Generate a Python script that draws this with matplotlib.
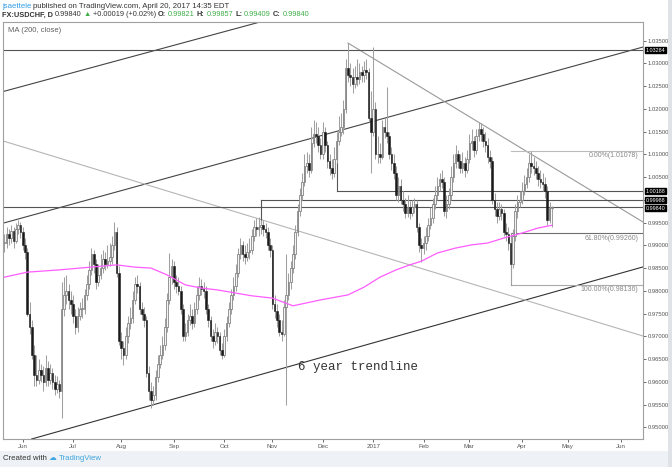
import matplotlib
matplotlib.use('Agg')
import matplotlib.pyplot as plt
import matplotlib.transforms as mtransforms
from matplotlib.ticker import MultipleLocator, FixedLocator, FixedFormatter
import numpy as np
import pandas as pd

plt.rcParams['font.family'] = ['Liberation Sans', 'DejaVu Sans']

# FX:USDCHF daily bars, 20 May 2016 .. 20 Apr 2017
dates = pd.bdate_range('2016-05-20', '2017-04-20')
first_open = 0.9905
closes = [
    0.9905, 0.9925, 0.9915, 0.9932, 0.9910, 0.9935, 0.9945, 0.9930, 0.9900, 0.9885,
    0.9750, 0.9720, 0.9660, 0.9615, 0.9605, 0.9625, 0.9615, 0.9600, 0.9630, 0.9605,
    0.9620, 0.9600, 0.9585, 0.9595, 0.9580, 0.9760, 0.9790, 0.9800, 0.9780, 0.9770,
    0.9745, 0.9720, 0.9745, 0.9760, 0.9760, 0.9790, 0.9815, 0.9845, 0.9880, 0.9860,
    0.9820, 0.9835, 0.9850, 0.9870, 0.9860, 0.9865, 0.9875, 0.9900, 0.9930, 0.9840,
    0.9690, 0.9675, 0.9660, 0.9700, 0.9730, 0.9740, 0.9780, 0.9815, 0.9810, 0.9760,
    0.9750, 0.9735, 0.9620, 0.9580, 0.9560, 0.9570, 0.9610, 0.9640, 0.9660, 0.9680,
    0.9720, 0.9780, 0.9830, 0.9855, 0.9820, 0.9810, 0.9800, 0.9760, 0.9700, 0.9710,
    0.9735, 0.9745, 0.9730, 0.9760, 0.9790, 0.9810, 0.9805, 0.9800, 0.9760, 0.9735,
    0.9700, 0.9690, 0.9710, 0.9700, 0.9670, 0.9660, 0.9700, 0.9730, 0.9760, 0.9790,
    0.9810, 0.9840, 0.9880, 0.9900, 0.9880, 0.9875, 0.9885, 0.9890, 0.9920, 0.9940,
    0.9935, 0.9940, 0.9945, 0.9935, 0.9930, 0.9900, 0.9890, 0.9770, 0.9755, 0.9735,
    0.9710, 0.9705, 0.9765, 0.9790, 0.9820, 0.9850, 0.9880, 0.9930, 0.9975, 1.0010,
    1.0040, 1.0075, 1.0080, 1.0065, 1.0125, 1.0145, 1.0140, 1.0120, 1.0100, 1.0150,
    1.0120, 1.0085, 1.0070, 1.0060, 1.0090, 1.0130, 1.0150, 1.0160, 1.0200, 1.0290,
    1.0275, 1.0270, 1.0255, 1.0270, 1.0265, 1.0280, 1.0275, 1.0285, 1.0280, 1.0180,
    1.0150, 1.0200, 1.0100, 1.0100, 1.0095, 1.0160, 1.0150, 1.0140, 1.0100, 1.0080,
    1.0060, 1.0010, 1.0030, 1.0000, 0.9990, 0.9970, 0.9985, 0.9970, 0.9985, 0.9990,
    0.9940, 0.9900, 0.9895, 0.9905, 0.9920, 0.9945, 0.9960, 0.9990, 1.0010, 1.0030,
    1.0045, 1.0040, 0.9975, 0.9990, 1.0010, 1.0050, 1.0080, 1.0100, 1.0085, 1.0070,
    1.0080, 1.0065, 1.0090, 1.0125, 1.0130, 1.0110, 1.0140, 1.0155, 1.0145, 1.0130,
    1.0120, 1.0095, 1.0085, 1.0000, 0.9980, 0.9965, 0.9980, 0.9970, 0.9930, 0.9925,
    0.9905, 0.9860, 0.9920, 0.9975, 0.9995, 1.0000, 1.0020, 1.0035, 1.0050, 1.0080,
    1.0075, 1.0070, 1.0060, 1.0045, 1.0040, 1.0035, 1.0020, 0.9955, 0.9982, 0.9984,
]
highs = [
    0.9925, 0.9940, 0.9935, 0.9945, 0.9940, 0.9950, 0.9955, 0.9952, 0.9940, 0.9915,
    0.9895, 0.9775, 0.9735, 0.9680, 0.9660, 0.9650, 0.9640, 0.9635, 0.9660, 0.9645,
    0.9640, 0.9630, 0.9615, 0.9612, 0.9605, 0.9820, 0.9830, 0.9835, 0.9815, 0.9800,
    0.9790, 0.9760, 0.9765, 0.9775, 0.9785, 0.9805, 0.9835, 0.9865, 0.9895, 0.9890,
    0.9870, 0.9860, 0.9880, 0.9890, 0.9885, 0.9900, 0.9905, 0.9920, 0.9952, 0.9940,
    0.9855, 0.9710, 0.9690, 0.9720, 0.9745, 0.9765, 0.9800, 0.9830, 0.9835, 0.9820,
    0.9775, 0.9765, 0.9745, 0.9635, 0.9600, 0.9590, 0.9625, 0.9660, 0.9680, 0.9700,
    0.9740, 0.9795, 0.9883, 0.9870, 0.9865, 0.9835, 0.9830, 0.9810, 0.9770, 0.9730,
    0.9750, 0.9770, 0.9760, 0.9775, 0.9810, 0.9830, 0.9825, 0.9820, 0.9810, 0.9770,
    0.9745, 0.9715, 0.9730, 0.9720, 0.9710, 0.9685, 0.9715, 0.9745, 0.9775, 0.9805,
    0.9830, 0.9860, 0.9895, 0.9915, 0.9910, 0.9900, 0.9905, 0.9915, 0.9935, 0.9955,
    0.9960, 0.9962, 0.9955, 0.9955, 0.9950, 0.9940, 0.9915, 0.9900, 0.9790, 0.9770,
    0.9750, 0.9735, 0.9780, 0.9880, 0.9840, 0.9865, 0.9900, 0.9945, 0.9990, 1.0025,
    1.0060, 1.0100, 1.0105, 1.0100, 1.0160, 1.0175, 1.0170, 1.0160, 1.0135, 1.0170,
    1.0160, 1.0130, 1.0100, 1.0090, 1.0115, 1.0150, 1.0185, 1.0190, 1.0220, 1.0310,
    1.0345, 1.0300, 1.0290, 1.0295, 1.0310, 1.0300, 1.0295, 1.0305, 1.0310, 1.0290,
    1.0240, 1.0336, 1.0215, 1.0140, 1.0125, 1.0175, 1.0180, 1.0249, 1.0150, 1.0115,
    1.0100, 1.0075, 1.0050, 1.0045, 1.0020, 1.0005, 1.0010, 0.9998, 1.0000, 1.0005,
    1.0000, 0.9950, 0.9915, 0.9920, 0.9940, 0.9960, 0.9985, 1.0005, 1.0030, 1.0050,
    1.0060, 1.0065, 1.0050, 1.0010, 1.0025, 1.0075, 1.0100, 1.0120, 1.0110, 1.0100,
    1.0105, 1.0095, 1.0110, 1.0145, 1.0155, 1.0140, 1.0155, 1.0170, 1.0168, 1.0160,
    1.0150, 1.0135, 1.0110, 1.0095, 1.0015, 0.9995, 0.9995, 0.9990, 0.9980, 0.9950,
    0.9940, 0.9915, 0.9935, 0.9990, 1.0010, 1.0020, 1.0040, 1.0055, 1.0070, 1.0100,
    1.0108, 1.0095, 1.0085, 1.0075, 1.0065, 1.0060, 1.0050, 1.0030, 0.9995, 0.9986,
]
lows = [
    0.9885, 0.9895, 0.9900, 0.9905, 0.9895, 0.9905, 0.9925, 0.9915, 0.9890, 0.9870,
    0.9745, 0.9705, 0.9650, 0.9590, 0.9590, 0.9595, 0.9600, 0.9580, 0.9590, 0.9590,
    0.9595, 0.9585, 0.9570, 0.9575, 0.9565, 0.9520, 0.9745, 0.9770, 0.9760, 0.9750,
    0.9730, 0.9705, 0.9710, 0.9735, 0.9740, 0.9750, 0.9780, 0.9805, 0.9835, 0.9840,
    0.9805, 0.9810, 0.9825, 0.9840, 0.9845, 0.9850, 0.9855, 0.9860, 0.9890, 0.9830,
    0.9680, 0.9650, 0.9637, 0.9650, 0.9685, 0.9715, 0.9730, 0.9770, 0.9795, 0.9750,
    0.9735, 0.9720, 0.9610, 0.9560, 0.9542, 0.9550, 0.9560, 0.9600, 0.9630, 0.9650,
    0.9670, 0.9710, 0.9770, 0.9815, 0.9805, 0.9795, 0.9790, 0.9750, 0.9690, 0.9690,
    0.9700, 0.9725, 0.9715, 0.9720, 0.9750, 0.9780, 0.9790, 0.9785, 0.9750, 0.9720,
    0.9690, 0.9675, 0.9680, 0.9685, 0.9660, 0.9650, 0.9655, 0.9690, 0.9720, 0.9750,
    0.9780, 0.9800, 0.9830, 0.9870, 0.9865, 0.9860, 0.9865, 0.9870, 0.9880, 0.9910,
    0.9920, 0.9920, 0.9925, 0.9920, 0.9915, 0.9890, 0.9875, 0.9760, 0.9740, 0.9720,
    0.9700, 0.9690, 0.9700, 0.9550, 0.9780, 0.9805, 0.9840, 0.9870, 0.9920, 0.9965,
    1.0000, 1.0030, 1.0060, 1.0050, 1.0060, 1.0115, 1.0125, 1.0105, 1.0090, 1.0090,
    1.0105, 1.0070, 1.0055, 1.0045, 1.0050, 1.0080, 1.0120, 1.0140, 1.0145, 1.0190,
    1.0260, 1.0250, 1.0235, 1.0245, 1.0250, 1.0255, 1.0260, 1.0260, 1.0265, 1.0170,
    1.0058, 1.0140, 1.0090, 1.0080, 1.0080, 1.0090, 1.0135, 1.0125, 1.0090, 1.0065,
    1.0045, 1.0000, 0.9995, 0.9990, 0.9975, 0.9960, 0.9962, 0.9958, 0.9965, 0.9970,
    0.9930, 0.9885, 0.9863, 0.9880, 0.9890, 0.9910, 0.9935, 0.9950, 0.9980, 1.0000,
    1.0020, 1.0025, 0.9965, 0.9960, 0.9980, 1.0000, 1.0040, 1.0070, 1.0070, 1.0060,
    1.0060, 1.0050, 1.0060, 1.0080, 1.0110, 1.0095, 1.0100, 1.0130, 1.0130, 1.0115,
    1.0105, 1.0080, 1.0070, 0.9990, 0.9965, 0.9950, 0.9955, 0.9955, 0.9920, 0.9910,
    0.9890, 0.9814, 0.9850, 0.9910, 0.9960, 0.9985, 0.9990, 1.0010, 1.0025, 1.0040,
    1.0060, 1.0055, 1.0045, 1.0030, 1.0025, 1.0020, 1.0005, 0.9945, 0.9948, 0.9941,
]

# 200-day moving average as drawn on the chart
ma_dates = ['2016-05-20', '2016-06-03', '2016-06-23', '2016-07-28', '2016-08-09',
            '2016-08-18', '2016-08-29', '2016-09-08', '2016-09-19', '2016-09-28',
            '2016-10-10', '2016-10-19', '2016-11-01', '2016-11-14', '2016-11-30',
            '2016-12-16', '2016-12-27', '2017-01-05', '2017-01-16', '2017-01-24',
            '2017-01-31', '2017-02-09', '2017-02-21', '2017-03-02', '2017-03-13',
            '2017-03-22', '2017-04-03', '2017-04-12', '2017-04-20']
ma_values = [0.9830, 0.9841, 0.9846, 0.9857, 0.9852, 0.9850, 0.9835, 0.9813, 0.9806,
             0.9802, 0.9795, 0.9789, 0.9784, 0.9767, 0.9780, 0.9791, 0.9808, 0.9830,
             0.9846, 0.9857, 0.9865, 0.9883, 0.9894, 0.9901, 0.9905, 0.9916, 0.9927,
             0.9938, 0.9944]

# horizontal levels marked on the right scale
levels = [1.03284, 1.00188, 0.99988, 0.99840]
level_starts = ['2016-05-20', '2016-12-09', '2016-10-25', '2016-05-20']

# fibonacci retracement
fib_high = 1.01078
fib_low = 0.98136
fib_ratios = [0.0, 0.618, 1.0]
fib_start = '2017-03-27'

idx = {d.strftime('%Y-%m-%d'): i for i, d in enumerate(dates)}

fig = plt.figure(figsize=(6.72, 4.67), dpi=100)
fig.patch.set_facecolor('white')
W, H = 672.0, 467.0
ax = fig.add_axes([3 / W, (H - 439) / H, 640 / W, 417 / H])

x = np.arange(len(closes))
c = np.array(closes)
o = np.array([first_open] + closes[:-1])
up = c >= o
bot = np.minimum(o, c)
hgt = np.maximum(np.abs(c - o), 0.00012)

ax.vlines(x, lows, highs, color='#a0a0a0', lw=0.75, zorder=3)
ax.bar(x[up], hgt[up], bottom=bot[up], width=0.7, color='#f4f4f4',
       edgecolor='#7a7a7a', linewidth=0.55, zorder=4)
ax.bar(x[~up], hgt[~up], bottom=bot[~up], width=0.7, color='#1a1a1a',
       edgecolor='#1a1a1a', linewidth=0.4, zorder=4)

# moving average
ax.plot([idx[d] for d in ma_dates], ma_values, color='#ff5cff', lw=0.9, zorder=5)

# channel / trend lines
ax.axline((0.3, 1.02391), (111.6, 1.03908), color='#444444', lw=0.8, zorder=2)
ax.axline((-1.9, 0.99468), (278.8, 1.03358), color='#444444', lw=0.8, zorder=2)
ax.axline((57.0, 0.95382), (278.8, 0.98525), color='#333333', lw=0.8, zorder=2)
ax.axline((-1.9, 1.01314), (278.8, 0.97006), color='#b5b5b5', lw=0.8, zorder=2)
ax.plot([150, 278.8], [1.03446, 0.99512], color='#9a9a9a', lw=0.8, zorder=2)

ax.text(128, 0.96325, '6 year trendline', family='Liberation Mono', fontsize=9,
        color='#333333', va='center', ha='left')

xr = 278.8
for lv, st in zip(levels, level_starts):
    ax.plot([idx[st], xr], [lv, lv], color='#555555', lw=0.8, zorder=2)
ax.plot([idx['2016-10-25']] * 2, [0.99988, 0.9950], color='#555555', lw=0.8)
ax.plot([idx['2016-12-09']] * 2, [1.00188, 1.0125], color='#555555', lw=0.8)

fi = idx[fib_start]
fib_cols = ['#bbbbbb', '#6e6e6e', '#aaaaaa']
for r, col in zip(fib_ratios, fib_cols):
    p = fib_high - r * (fib_high - fib_low)
    ax.plot([fi, xr], [p, p], color=col, lw=0.8, zorder=2)
    ax.text(xr - 2, p - 0.0003, '%.2f%%(%.5f)' % (r * 100, p), ha='right', va='top',
            fontsize=5.0, color='#888888')
ax.plot([fi, fi], [fib_high - 0.618 * (fib_high - fib_low), fib_low], color='#999999', lw=0.8)

ax.set_xlim(-0.6, xr)
ax.set_ylim(0.94743, 1.03908)

# axes styling
for s in ax.spines.values():
    s.set_color('#a0a0a0')
    s.set_linewidth(0.8)
ax.yaxis.tick_right()
ax.yaxis.set_major_locator(MultipleLocator(0.005))


def price_fmt(v, pos):
    # the scale hides a tick label that sits under one of the price boxes
    if min(abs(v - lv) for lv in levels) < 0.0015:
        return ''
    return '%.5f' % v


ax.yaxis.set_major_formatter(plt.FuncFormatter(price_fmt))
ax.tick_params(axis='y', length=2, width=0.6, pad=1.5, labelsize=4.2,
               colors='#555555')

ext = pd.bdate_range('2016-05-20', '2017-06-30')
tpos, tlab = [], []
for i in range(1, len(ext)):
    if ext[i].month != ext[i - 1].month:
        tpos.append(i)
        tlab.append(str(ext[i].year) if ext[i].month == 1 else ext[i].strftime('%b'))
ax.xaxis.set_major_locator(FixedLocator(tpos))
ax.xaxis.set_major_formatter(FixedFormatter(tlab))
ax.tick_params(axis='x', length=2, width=0.6, pad=1.5, labelsize=4.5,
               colors='#555555')

# price boxes on the scale (last one nudged down a touch, as on the chart)
btr = mtransforms.blended_transform_factory(ax.transAxes, ax.transData)
box_nudge = [0.0, 0.0, 0.0, -0.00022]
for lv, dn in zip(levels, box_nudge):
    ax.text(1.0 + 3 / 640, lv + dn, '%.5f' % lv, transform=btr, ha='left', va='center',
            fontsize=3.9, color='white', clip_on=False, zorder=10,
            bbox=dict(boxstyle='square,pad=0.1', fc='black', ec='black'))

ax.text(5 / 640, 1 - 9 / 417, 'MA (200, close)', transform=ax.transAxes,
        fontsize=5.5, color='#606060', va='center')

# header
rend = fig.canvas.get_renderer()


def chain(xpx, ypx, parts, size):
    for s, col, wt in parts:
        t = fig.text(xpx / W, 1 - ypx / H, s, color=col, fontsize=size,
                     fontweight=wt, va='center', ha='left')
        xpx = t.get_window_extent(rend).x1 + 2


green = '#3fae49'
dark = '#333333'
chain(2, 6, [('jsaettele', '#2e9be6', 'normal'),
             ('published on TradingView.com, April 20, 2017 14:35 EDT', dark, 'normal')], 5.6)
chain(2, 15, [('FX:USDCHF, D', dark, 'bold'), ('0.99840', dark, 'normal'),
              ('\u25b2', green, 'normal'), ('+0.00019 (+0.02%)', dark, 'normal'),
              ('O:', dark, 'bold'), ('0.99821', green, 'normal'),
              ('H:', dark, 'bold'), ('0.99857', green, 'normal'),
              ('L:', dark, 'bold'), ('0.99409', green, 'normal'),
              ('C:', dark, 'bold'), ('0.99840', green, 'normal')], 5.3)

# footer
fig.patches.append(plt.Rectangle((0, 0), 1, (H - 451) / H, transform=fig.transFigure,
                                 fc='#eef1f5', ec='none', zorder=0))
fig.patches.append(plt.Rectangle((668 / W, 0), 4 / W, 1, transform=fig.transFigure,
                                 fc='#dfe3e8', ec='none', zorder=0))
chain(3, 459, [('Created with', dark, 'normal'), ('\u2601', '#3ea6e0', 'normal'),
               ('TradingView', '#3ea6e0', 'normal')], 5.6)

fig.savefig('out.png', dpi=100)
